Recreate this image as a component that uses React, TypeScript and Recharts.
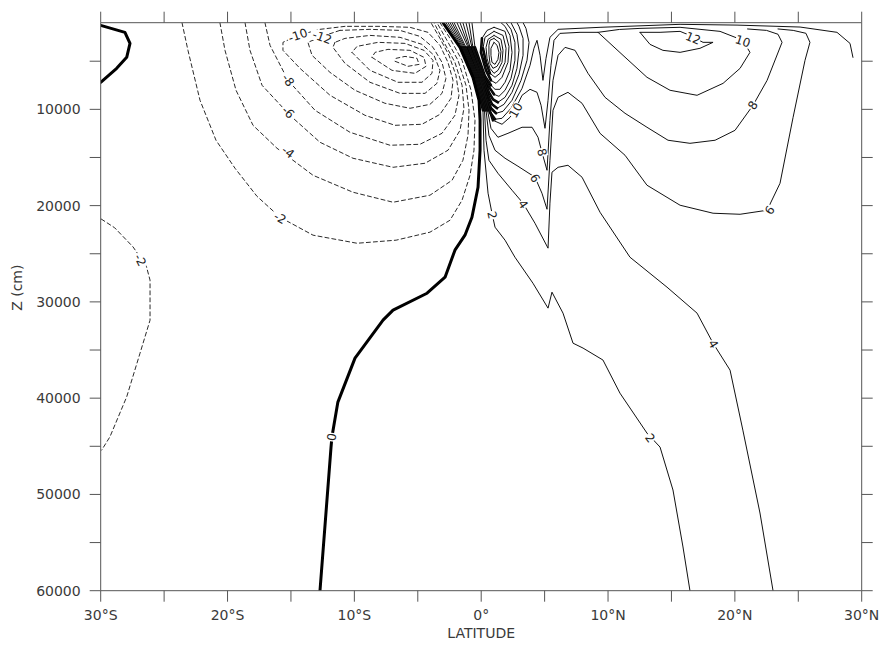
import React from 'react';
import { ComposedChart, Line, Scatter, XAxis, YAxis, Label } from 'recharts';

// ---------- axes ----------
const X_TICKS = [-30, -25, -20, -15, -10, -5, 0, 5, 10, 15, 20, 25, 30];
const X_TICK_LABELS: Record<string, string> = {
  '-30': '30°S', '-20': '20°S', '-10': '10°S', '0': '0°', '10': '10°N', '20': '20°N', '30': '30°N',
};
const Y_TICKS = [5000, 10000, 15000, 20000, 25000, 30000, 35000, 40000, 45000, 50000, 55000, 60000];
const Y_TICK_LABELS = [10000, 20000, 30000, 40000, 50000, 60000];

// ---------- contours: [latitude, z (cm)] ----------
const ZERO_MAIN = [[-3.01,1000],[-1.67,3560],[-0.65,6670],[-0.17,9060],[-0.09,11140],[-0.09,14250],[-0.25,18090],[-0.73,21210],[-1.28,23070],[-2.07,24630],[-2.85,27430],[-4.27,29100],[-6.95,30860],[-7.74,31900],[-9.95,35840],[-11.30,40410],[-11.77,44040],[-11.84,45080],[-12.71,60000]];
const ZERO_LEFT = [[-30,1280],[-28.09,2000],[-27.69,3150],[-27.95,4600],[-28.74,5740],[-30,7190]];

const NEG_FAR_2 = [[-29.95,21400],[-28.9,22300],[-27.45,24290],[-26.4,26300],[-26.11,27740],[-26.11,31900],[-26.90,35330],[-27.95,39860],[-29.27,44010],[-29.92,45390]];
const NEG_2 = [[-23.59,1000],[-23.12,3870],[-22.17,9060],[-20.91,13210],[-19.41,16120],[-17.68,19030],[-15.86,21210],[-13.26,23070],[-9.79,23910],[-6.71,23590],[-4.04,22760],[-2.46,21520],[-1.51,19440],[-0.88,16850],[-0.57,14250],[-0.49,11140],[-0.80,8020],[-1.51,4910],[-2.46,2630],[-3.25,1000]];
const NEG_4 = [[-20.60,1000],[-20.20,3870],[-19.33,8020],[-17.99,11660],[-16.10,14040],[-13.26,16850],[-10.11,18610],[-6.95,19650],[-4.04,18920],[-2.30,17370],[-1.44,15290],[-1.04,12700],[-0.96,10100],[-1.20,7500],[-1.83,4910],[-2.70,2830],[-3.49,1000]];
const NEG_6 = [[-18.62,1000],[-18.23,3870],[-17.28,7500],[-15.08,10620],[-12.71,13420],[-10.11,15080],[-6.95,16020],[-4.43,15600],[-2.62,14250],[-1.67,12180],[-1.36,9890],[-1.51,7500],[-2.07,5120],[-2.93,3040],[-3.72,1000]];
const NEG_8 = [[-17.05,1000],[-16.65,3350],[-15.23,6990],[-13.10,10100],[-10.35,12380],[-7.19,13730],[-4.83,13630],[-3.09,12490],[-2.07,10620],[-1.75,8540],[-1.99,6470],[-2.54,4390],[-3.25,2630],[-3.96,1000]];
const NEG_10 = [[-10.74,1380],[-12.71,1690],[-14.45,2320],[-15.63,3040],[-15.63,3870],[-14.29,5740],[-11.92,8540],[-9.16,10620],[-6.79,11660],[-4.67,11550],[-3.25,10520],[-2.38,8850],[-2.22,6990],[-2.62,5120],[-3.25,3350],[-4.20,2000],[-5.61,1480],[-7.98,1380],[-10.74,1380]];
const NEG_12 = [[-11.14,1800],[-12.55,2420],[-13.66,3040],[-13.34,4390],[-11.92,6160],[-9.95,8020],[-7.59,9370],[-5.61,9890],[-4.04,9480],[-3.09,8340],[-2.78,6780],[-3.09,5120],[-3.80,3560],[-4.83,2420],[-6.40,1800],[-8.77,1690],[-11.14,1800]];
const NEG_14 = [[-11.53,3040],[-11.69,3560],[-10.74,5220],[-8.77,7190],[-6.40,8340],[-4.43,8340],[-3.49,7300],[-3.25,5950],[-3.72,4390],[-4.67,3250],[-6.40,2520],[-8.77,2320],[-10.74,2630],[-11.53,3040]];
const NEG_16 = [[-10.19,4080],[-8.77,5950],[-6.56,7190],[-4.67,7190],[-3.88,6260],[-3.80,4910],[-4.51,3870],[-6.01,3150],[-8.14,3040],[-9.79,3460],[-10.19,4080]];
const NEG_18 = [[-8.61,4600],[-7.03,5950],[-5.22,6260],[-4.35,5530],[-4.51,4600],[-5.61,3870],[-7.35,3770],[-8.37,4080],[-8.61,4600]];
const NEG_20 = [[-6.79,5010],[-5.77,5530],[-4.90,5330],[-5.06,4700],[-6.01,4500],[-6.71,4700],[-6.79,5010]];

const POS_2 = [[-2.78,1000],[-1.51,3560],[-0.49,6670],[0.14,10100],[0.22,14250],[0.54,18710],[0.85,20790],[1.09,22240],[1.88,23590],[2.66,25360],[4.08,28060],[5.27,30650],[5.58,28990],[6.45,31170],[7.24,34290],[8.03,34800],[9.60,36040],[10.94,39480],[13.07,43630],[14.10,45080],[15.12,49540],[15.91,55460],[16.46,60000]];
const POS_4 = [[-2.62,1000],[-1.44,3560],[-0.41,6670],[0.26,10100],[0.38,13210],[0.61,15290],[1.32,16640],[2.43,18400],[3.30,19750],[4.24,21830],[5.27,24420],[5.42,19750],[5.58,16530],[6.06,16020],[6.84,15810],[7.95,17050],[9.37,20690],[11.73,25360],[14.65,28470],[17.02,31170],[18.28,34290],[19.62,37090],[20.63,43320],[21.98,51930],[23.01,60000]];
const POS_6 = [[-2.46,1000],[-1.36,3560],[-0.33,6670],[0.38,10100],[0.61,12700],[1.09,14250],[1.88,15080],[2.90,15910],[4.24,17050],[4.79,18710],[5.19,20380],[5.42,15290],[5.66,10100],[6.06,8750],[6.84,8230],[7.95,9370],[9.37,12490],[11.34,14770],[13.07,17880],[15.68,19960],[18.28,20790],[20.41,20900],[22.54,20480],[23.56,17680],[24.59,10830],[25.53,4910],[25.92,3040],[25.6,2100],[24.6,1800],[23.4,1650]];
const POS_8 = [[-2.30,1000],[-1.28,3560],[-0.25,6670],[0.50,10100],[0.77,11970],[1.32,12900],[2.11,12490],[3.22,11860],[4.01,11860],[4.48,12900],[4.79,14460],[5.19,16330],[5.42,11140],[5.66,6990],[6.06,4390],[6.61,3560],[7.40,3870],[8.42,6260],[9.76,8750],[11.34,10410],[13.07,11860],[14.73,13210],[16.46,13530],[18.44,13210],[20.01,12180],[21.43,9580],[22.54,6990],[23.72,3040],[23.4,2200],[22.5,1800],[21.0,1650]];
const POS_10 = [[-2.14,1000],[-1.20,3560],[-0.17,6670],[0.54,9580],[0.93,11140],[1.64,11550],[2.27,10830],[2.66,10100],[3.22,8540],[3.85,7920],[4.40,8230],[4.72,9580],[5.03,11970],[5.27,9060],[5.50,5430],[5.74,2830],[6.21,2110],[7.79,2000],[9.21,2000],[11.18,4390],[13.07,6670],[14.89,8020],[17.02,8540],[19.07,7300],[20.41,5740],[21.19,4080],[20.63,2830],[18.83,1900],[15.68,1480],[12.52,1590],[10.9,1700],[9.21,2000]];
const POS_12_NH = [[12.52,2000],[14.10,2000],[15.68,1900],[16.46,2320],[17.49,3040],[18.28,3040],[17.25,3660],[15.68,4080],[14.33,3870],[13.31,3250],[12.52,2000]];

const CELL_O1 = [[-1.91,1000],[-1.04,3560],[-0.09,6670],[0.38,9060],[0.69,10310],[1.09,11030],[1.64,10930],[2.35,9890],[3.22,7820],[3.85,5430],[4.16,3660],[4.40,2830],[4.64,4390],[4.87,6990],[5.11,4700],[5.42,2520],[6.06,1690],[9.37,1480],[15.68,1170],[20.17,1250],[25.14,1450],[28.05,2000],[29.08,3150],[29.31,4600]];
const CELL_O2 = [[-1.67,1000],[-0.96,3560],[-0.02,6670],[0.46,8850],[0.77,9890],[1.17,10410],[1.72,10200],[2.43,9060],[3.14,6990],[3.61,4910],[3.77,3040],[3.53,1590],[3.30,1000]];
const CELL_O3 = [[-1.44,1000],[-0.88,3560],[0.06,6670],[0.54,8540],[0.85,9480],[1.25,9890],[1.80,9480],[2.43,8230],[2.98,6360],[3.30,4390],[3.30,2630],[2.98,1380],[2.82,1000]];
const CELL_O4 = [[-1.20,1000],[-0.73,3560],[0.14,6670],[0.61,8230],[0.93,8960],[1.32,9270],[1.88,8750],[2.43,7500],[2.82,5740],[2.98,3870],[2.82,2210],[2.35,1000]];
const CELL_O5 = [[-0.96,1000],[-0.65,3560],[0.22,6670],[0.69,7820],[1.01,8440],[1.40,8650],[1.88,8020],[2.35,6780],[2.66,4910],[2.66,3040],[2.35,1690],[1.96,1000]];
const CELL_O6 = [[-0.73,1000],[-0.49,3560],[0.30,6570],[0.77,7500],[1.09,7920],[1.48,7920],[1.88,7190],[2.27,5950],[2.43,4080],[2.27,2320],[1.88,1380],[1.56,1000]];
const CELL_C1 = [[1.01,1480],[1.88,1900],[2.19,3460],[2.11,5120],[1.64,6670],[1.17,7300],[0.77,6990],[0.38,5950],[-0.02,4080],[0.06,2630],[0.46,1800],[1.01,1480]];
const CELL_C2 = [[1.01,1900],[1.72,2320],[1.96,3660],[1.88,5120],[1.48,6260],[1.09,6670],[0.69,6260],[0.38,5120],[0.14,3660],[0.30,2520],[1.01,1900]];
const CELL_C3 = [[1.01,2320],[1.56,2730],[1.72,3870],[1.64,5120],[1.32,5950],[1.01,6260],[0.69,5740],[0.46,4700],[0.38,3560],[0.54,2730],[1.01,2320]];
const CELL_C4 = [[1.01,2630],[1.40,3040],[1.56,3980],[1.48,5010],[1.25,5530],[0.93,5740],[0.69,5220],[0.61,4290],[0.61,3350],[0.69,2830],[1.01,2630]];
const CELL_C5 = [[1.01,3040],[1.25,3350],[1.40,4080],[1.32,4810],[1.09,5330],[0.85,5120],[0.77,4390],[0.77,3660],[1.01,3040]];

// ---------- contour labels ----------
const LABEL_TEXT = ['-10', '-12', '-8', '-6', '-4', '-2', '-2', '0', '2', '4', '6', '8', '10', '12', '10', '8', '6', '4', '2'];
const LABEL_LAT = [-14.45, -12.55, -15.23, -15.23, -15.23, -15.86, -26.90, -11.77, 0.85, 3.30, 4.24, 4.79, 2.74, 16.70, 20.63, 21.43, 22.77, 18.28, 13.31];
const LABEL_Z = [2320, 2520, 6990, 10310, 14460, 21310, 25670, 44040, 21000, 19860, 17160, 14460, 10100, 2630, 2940, 9580, 20480, 34390, 44150];
const LABEL_ANGLE = [-19, 20, 55, 45, 37, 30, 63, -81, 78, 55, 60, 75, -61, 22, 18, -57, -55, 60, 53];

const toPts = (arr: number[][]) => arr.map(([lat, z]) => ({ lat, z }));

type Kind = 'zero' | 'neg' | 'pos' | 'strip';
const CONTOURS: { name: string; kind: Kind; pts: number[][] }[] = [
  { name: 'negFar2', kind: 'neg', pts: NEG_FAR_2 },
  { name: 'neg2', kind: 'neg', pts: NEG_2 },
  { name: 'neg4', kind: 'neg', pts: NEG_4 },
  { name: 'neg6', kind: 'neg', pts: NEG_6 },
  { name: 'neg8', kind: 'neg', pts: NEG_8 },
  { name: 'neg10', kind: 'neg', pts: NEG_10 },
  { name: 'neg12', kind: 'neg', pts: NEG_12 },
  { name: 'neg14', kind: 'neg', pts: NEG_14 },
  { name: 'neg16', kind: 'neg', pts: NEG_16 },
  { name: 'neg18', kind: 'neg', pts: NEG_18 },
  { name: 'neg20', kind: 'neg', pts: NEG_20 },
  // compressed parts of the positive contours beside the zero line (drawn heavier: dense band)
  { name: 's2', kind: 'strip', pts: POS_2.slice(1, 4) },
  { name: 's4', kind: 'strip', pts: POS_4.slice(1, 4) },
  { name: 's6', kind: 'strip', pts: POS_6.slice(1, 4) },
  { name: 's8', kind: 'strip', pts: POS_8.slice(1, 4) },
  { name: 's10', kind: 'strip', pts: POS_10.slice(1, 5) },
  { name: 'so1', kind: 'strip', pts: CELL_O1.slice(1, 6) },
  { name: 'so2', kind: 'strip', pts: CELL_O2.slice(1, 6) },
  { name: 'so3', kind: 'strip', pts: CELL_O3.slice(1, 6) },
  { name: 'so4', kind: 'strip', pts: CELL_O4.slice(1, 6) },
  { name: 'so5', kind: 'strip', pts: CELL_O5.slice(1, 5) },
  { name: 'so6', kind: 'strip', pts: CELL_O6.slice(1, 4) },
  { name: 'sc1', kind: 'strip', pts: CELL_C1.slice(6, 10) },
  { name: 'sc2', kind: 'strip', pts: CELL_C2.slice(6, 9) },
  { name: 'pos2', kind: 'pos', pts: POS_2 },
  { name: 'pos4', kind: 'pos', pts: POS_4 },
  { name: 'pos6', kind: 'pos', pts: POS_6 },
  { name: 'pos8', kind: 'pos', pts: POS_8 },
  { name: 'pos10', kind: 'pos', pts: POS_10 },
  { name: 'pos12nh', kind: 'pos', pts: POS_12_NH },
  { name: 'o1', kind: 'pos', pts: CELL_O1 },
  { name: 'o2', kind: 'pos', pts: CELL_O2 },
  { name: 'o3', kind: 'pos', pts: CELL_O3 },
  { name: 'o4', kind: 'pos', pts: CELL_O4 },
  { name: 'o5', kind: 'pos', pts: CELL_O5 },
  { name: 'o6', kind: 'pos', pts: CELL_O6 },
  { name: 'c1', kind: 'pos', pts: CELL_C1 },
  { name: 'c2', kind: 'pos', pts: CELL_C2 },
  { name: 'c3', kind: 'pos', pts: CELL_C3 },
  { name: 'c4', kind: 'pos', pts: CELL_C4 },
  { name: 'c5', kind: 'pos', pts: CELL_C5 },
  { name: 'zeroLeft', kind: 'zero', pts: ZERO_LEFT },
  { name: 'zeroMain', kind: 'zero', pts: ZERO_MAIN },
];

const LABELS = LABEL_TEXT.map((text, i) => ({ text, lat: LABEL_LAT[i], z: LABEL_Z[i], angle: LABEL_ANGLE[i] }));

const FONT = 'DejaVu Sans, Verdana, sans-serif';
const AXIS_COLOR = '#555';
const TEXT_COLOR = '#3a3a3a';

const renderContourLabel = (props: any) => {
  const { cx, cy, payload } = props;
  if (cx == null || cy == null) return <g />;
  const w = payload.text.length * 6.6 + 2;
  return (
    <g transform={`translate(${cx},${cy}) rotate(${payload.angle})`}>
      <rect x={-w / 2} y={-5.5} width={w} height={11} fill="#fff" />
      <text x={0} y={0} textAnchor="middle" dominantBaseline="central" fontSize={12} fontFamily={FONT} fill="#222">
        {payload.text}
      </text>
    </g>
  );
};

const styleFor = (kind: Kind) => {
  if (kind === 'zero') return { stroke: '#000', strokeWidth: 3, strokeDasharray: undefined };
  if (kind === 'neg') return { stroke: '#2a2a2a', strokeWidth: 1, strokeDasharray: '4 3' };
  if (kind === 'strip') return { stroke: '#000', strokeWidth: 2.6, strokeDasharray: undefined };
  return { stroke: '#111', strokeWidth: 1, strokeDasharray: undefined };
};

export default function App() {
  return (
    <div style={{ position: 'absolute', left: 0, top: 0, width: 880, height: 647, background: '#fff' }}>
      <ComposedChart width={880} height={647} margin={{ top: 0, right: 0, bottom: 0, left: 0 }}>
        <XAxis
          xAxisId="b"
          type="number"
          dataKey="lat"
          domain={[-30, 30]}
          ticks={X_TICKS}
          interval={0}
          allowDataOverflow
          height={56.3}
          tickSize={11}
          tickMargin={8}
          stroke={AXIS_COLOR}
          tick={{ fill: TEXT_COLOR, fontSize: 14, fontFamily: FONT }}
          tickFormatter={(v: number) => X_TICK_LABELS[String(v)] ?? ''}
        >
          <Label
            content={(p: any) => {
              const vb = p.viewBox || { x: 100.7, y: 590.7, width: 761, height: 56.3 };
              return (
                <text x={vb.x + vb.width / 2} y={638} textAnchor="middle" fontSize={14} fontFamily={FONT} fill={TEXT_COLOR}>
                  LATITUDE
                </text>
              );
            }}
          />
        </XAxis>
        <XAxis
          xAxisId="t"
          orientation="top"
          type="number"
          dataKey="lat"
          domain={[-30, 30]}
          ticks={X_TICKS}
          interval={0}
          allowDataOverflow
          height={22.7}
          tickSize={11}
          stroke={AXIS_COLOR}
          tickFormatter={() => ''}
        />
        <YAxis
          yAxisId="l"
          type="number"
          dataKey="z"
          domain={[1000, 60000]}
          reversed
          ticks={Y_TICKS}
          interval={0}
          allowDataOverflow
          width={100.7}
          tickSize={11}
          tickMargin={9}
          stroke={AXIS_COLOR}
          tick={{ fill: TEXT_COLOR, fontSize: 14, fontFamily: FONT }}
          tickFormatter={(v: number) => (Y_TICK_LABELS.includes(v) ? String(v) : '')}
        >
          <Label
            content={(p: any) => {
              const vb = p.viewBox || { x: 0, y: 22.7, width: 100.7, height: 568 };
              const cx = vb.x + 17;
              const cy = vb.y + vb.height / 2 - 19;
              return (
                <text
                  x={cx}
                  y={cy}
                  transform={`rotate(-90 ${cx} ${cy})`}
                  textAnchor="middle"
                  dominantBaseline="central"
                  fontSize={14}
                  fontFamily={FONT}
                  fill={TEXT_COLOR}
                >
                  Z (cm)
                </text>
              );
            }}
          />
        </YAxis>
        <YAxis
          yAxisId="r"
          orientation="right"
          type="number"
          dataKey="z"
          domain={[1000, 60000]}
          reversed
          ticks={Y_TICKS}
          interval={0}
          allowDataOverflow
          width={18.3}
          tickSize={11}
          stroke={AXIS_COLOR}
          tickFormatter={() => ''}
        />
        {CONTOURS.map((c) => {
          const s = styleFor(c.kind);
          return (
            <Line
              key={c.name}
              xAxisId="b"
              yAxisId="l"
              data={toPts(c.pts)}
              dataKey="z"
              type="linear"
              stroke={s.stroke}
              strokeWidth={s.strokeWidth}
              strokeDasharray={s.strokeDasharray}
              dot={false}
              activeDot={false}
              isAnimationActive={false}
              strokeLinejoin="round"
              strokeLinecap="round"
            />
          );
        })}
        <Scatter
          xAxisId="b"
          yAxisId="l"
          data={LABELS}
          dataKey="z"
          shape={renderContourLabel}
          isAnimationActive={false}
        />
      </ComposedChart>
    </div>
  );
}
